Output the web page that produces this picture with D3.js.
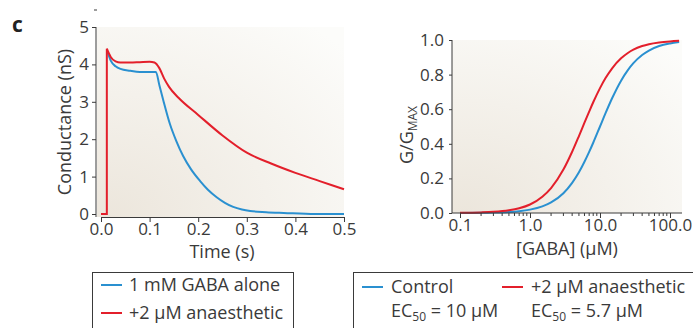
<!DOCTYPE html>
<html>
<head>
<meta charset="utf-8">
<script src="https://cdn.jsdelivr.net/npm/d3@7"></script>
<style>
  body { margin: 0; background: #fff; }
  svg { display: block; font-family: "Open Sans", Lato, sans-serif; }
</style>
</head>
<body>
<script>
// time course (s, nS)
const timeControl = [
  [0.013, 4.35], [0.02, 4.1], [0.03, 3.95], [0.04, 3.88], [0.06, 3.83], [0.08, 3.8],
  [0.113, 3.8], [0.12, 3.45], [0.128, 3.05], [0.142, 2.4], [0.155, 1.95], [0.169, 1.55],
  [0.185, 1.2], [0.204, 0.88], [0.22, 0.65], [0.238, 0.45], [0.255, 0.3], [0.272, 0.19],
  [0.29, 0.12], [0.307, 0.08], [0.34, 0.05], [0.376, 0.03], [0.44, 0.0], [0.5, 0.0]
];
const timeRise = [[0.0, 0.0], [0.012, 0.0], [0.012, 4.42]];
const timeAnaesthetic = [
  [0.012, 4.42], [0.02, 4.2], [0.03, 4.08], [0.04, 4.05], [0.06, 4.05], [0.08, 4.06],
  [0.1, 4.07], [0.11, 4.05], [0.12, 3.9], [0.13, 3.62], [0.14, 3.4], [0.16, 3.1],
  [0.2, 2.65], [0.25, 2.1], [0.3, 1.64], [0.35, 1.35], [0.4, 1.1], [0.45, 0.88], [0.5, 0.66]
];
// dose response ([GABA] µM, G/Gmax)
const gaba = [0.1, 0.2, 0.3, 0.5, 0.7, 1, 1.5, 2, 3, 4, 5, 6, 7, 8, 10, 12, 15, 20, 25, 30, 40, 50, 70, 100, 135];
const doseControl = [0.0004, 0.0013, 0.0026, 0.0061, 0.0107, 0.0196, 0.038, 0.061, 0.114, 0.174, 0.235, 0.296, 0.353, 0.406, 0.5, 0.577, 0.666, 0.765, 0.826, 0.866, 0.913, 0.939, 0.965, 0.98, 0.988];
const doseAnaesthetic = [0.001, 0.0034, 0.0067, 0.0157, 0.0275, 0.049, 0.094, 0.144, 0.251, 0.354, 0.445, 0.522, 0.586, 0.64, 0.722, 0.78, 0.838, 0.894, 0.925, 0.944, 0.965, 0.976, 0.986, 0.992, 0.995];
const timeTicks = [0, 0.1, 0.2, 0.3, 0.4, 0.5];
const condTicks = [0, 1, 2, 3, 4, 5];
const ratioTicks = [0, 0.2, 0.4, 0.6, 0.8, 1.0];
const gabaTicks = [0.1, 1, 10, 100];

const blue = "#2a90d0", red = "#e31f2b", ink = "#3a3a3a";
const width = 693, height = 328;
const tickFont = "17px", labelFont = "18px";

const svg = d3.select("body").append("svg")
  .attr("width", width).attr("height", height);

const defs = svg.append("defs");
const grad = defs.append("radialGradient").attr("id", "bg")
  .attr("cx", "0.05").attr("cy", "1").attr("r", "1.3");
grad.append("stop").attr("offset", "0").attr("stop-color", "#ece6dc");
grad.append("stop").attr("offset", "1").attr("stop-color", "#fcfcfa");

function styleAxis(g) {
  g.select(".domain").attr("stroke", ink);
  g.selectAll(".tick line").attr("stroke", ink);
  g.selectAll("text").attr("fill", ink).style("font-size", tickFont)
    .style("font-family", "'Open Sans', sans-serif");
}

// ---- left panel
const x1 = d3.scaleLinear().domain([0, 0.5]).range([101, 344]);
const y1 = d3.scaleLinear().domain([0, 5]).range([214, 27]);

svg.append("rect").attr("x", 97).attr("y", 27).attr("width", 344 - 97).attr("height", 217 - 27)
  .attr("fill", "url(#bg)");

const line1 = d3.line().x(d => x1(d[0])).y(d => y1(d[1])).curve(d3.curveMonotoneX);
svg.append("path").datum(timeControl).attr("d", line1)
  .attr("fill", "none").attr("stroke", blue).attr("stroke-width", 2);
svg.append("path").datum(timeRise)
  .attr("d", d3.line().x(d => x1(d[0])).y(d => y1(d[1])))
  .attr("fill", "none").attr("stroke", red).attr("stroke-width", 2);
svg.append("path").datum(timeAnaesthetic).attr("d", line1)
  .attr("fill", "none").attr("stroke", red).attr("stroke-width", 2);

const ax1 = svg.append("g").attr("transform", "translate(0,217)")
  .call(d3.axisBottom(x1).tickValues(timeTicks).tickFormat(d3.format(".1f")).tickSize(5).tickSizeOuter(0));
const ay1 = svg.append("g").attr("transform", "translate(96,0)")
  .call(d3.axisLeft(y1).tickValues(condTicks).tickFormat(d3.format("d")).tickSize(4).tickSizeOuter(0));
ay1.select(".domain").attr("d", "M0,27V217");
styleAxis(ax1);
styleAxis(ay1);
ax1.selectAll("text").attr("dy", "0.58em");

svg.append("text").attr("transform", "translate(71,122) rotate(-90)")
  .attr("text-anchor", "middle").attr("fill", ink).style("font-size", labelFont)
  .text("Conductance (nS)");
svg.append("text").attr("x", 222).attr("y", 258).attr("text-anchor", "middle")
  .attr("fill", ink).style("font-size", labelFont).text("Time (s)");

svg.append("text").attr("x", 12).attr("y", 32).attr("fill", "#222")
  .style("font-size", "21px").style("font-weight", "bold").text("c");
svg.append("line").attr("x1", 94).attr("x2", 97).attr("y1", 10).attr("y2", 10)
  .attr("stroke", ink).attr("stroke-width", 1);

// ---- right panel
const x2 = d3.scaleLog().domain([0.1, 100]).range([460, 670]);
const y2 = d3.scaleLinear().domain([0, 1]).range([213, 40]);

svg.append("rect").attr("x", 452).attr("y", 40).attr("width", 682 - 452).attr("height", 213 - 40)
  .attr("fill", "url(#bg)");

const line2 = d3.line().x(d => x2(d[0])).y(d => y2(d[1])).curve(d3.curveMonotoneX);
svg.append("path").datum(gaba.map((g, i) => [g, doseControl[i]])).attr("d", line2)
  .attr("fill", "none").attr("stroke", blue).attr("stroke-width", 2);
svg.append("path").datum(gaba.map((g, i) => [g, doseAnaesthetic[i]])).attr("d", line2)
  .attr("fill", "none").attr("stroke", red).attr("stroke-width", 2);

// minor log ticks
const minor = [];
[0.1, 1, 10, 100].forEach(dec => { for (let k = 2; k <= 9; k++) if (dec * k <= 140) minor.push(dec * k); });
svg.append("g").selectAll("line").data(minor).join("line")
  .attr("x1", d => x2(d)).attr("x2", d => x2(d)).attr("y1", 213).attr("y2", 216)
  .attr("stroke", ink);

const ax2 = svg.append("g").attr("transform", "translate(0,213)")
  .call(d3.axisBottom(x2).tickValues(gabaTicks).tickFormat(d3.format(".1f")).tickSize(5).tickSizeOuter(0));
ax2.select(".domain").attr("d", "M452,0H682");
const ay2 = svg.append("g").attr("transform", "translate(452,0)")
  .call(d3.axisLeft(y2).tickValues(ratioTicks).tickFormat(d3.format(".1f")).tickSize(3).tickSizeOuter(0));
ay2.select(".domain").attr("d", "M0,40V213");
styleAxis(ax2);
styleAxis(ay2);
ax2.selectAll("text").attr("dy", "0.6em");
ay2.selectAll("text").attr("x", -8);

const yl = svg.append("text").attr("transform", "translate(413,135) rotate(-90)")
  .attr("text-anchor", "middle").attr("fill", ink).style("font-size", labelFont);
yl.append("tspan").text("G/G");
yl.append("tspan").attr("dy", 4).style("font-size", "12px").text("MAX");
svg.append("text").attr("x", 567).attr("y", 255).attr("text-anchor", "middle")
  .attr("fill", ink).style("font-size", labelFont).text("[GABA] (µM)");

// ---- legends
svg.append("rect").attr("x", 92.5).attr("y", 272.5).attr("width", 201).attr("height", 70)
  .attr("fill", "none").attr("stroke", ink);
const legLeft = [["1 mM GABA alone", blue], ["+2 µM anaesthetic", red]];
legLeft.forEach(([label, c], i) => {
  const yy = 285 + i * 28;
  svg.append("line").attr("x1", 101).attr("x2", 122).attr("y1", yy).attr("y2", yy)
    .attr("stroke", c).attr("stroke-width", 2);
  svg.append("text").attr("x", 129).attr("y", yy + 6).attr("fill", ink)
    .style("font-size", labelFont).text(label);
});

svg.append("rect").attr("x", 353.5).attr("y", 272.5).attr("width", 360).attr("height", 70)
  .attr("fill", "none").attr("stroke", ink);
const legRight = [["Control", "10", blue, 362], ["+2 µM anaesthetic", "5.7", red, 502]];
legRight.forEach(([label, ec, c, lx]) => {
  svg.append("line").attr("x1", lx).attr("x2", lx + 21).attr("y1", 287).attr("y2", 287)
    .attr("stroke", c).attr("stroke-width", 2);
  svg.append("text").attr("x", lx + 29).attr("y", 293).attr("fill", ink)
    .style("font-size", labelFont).text(label);
  const t = svg.append("text").attr("x", lx + 29).attr("y", 317).attr("fill", ink)
    .style("font-size", labelFont);
  t.append("tspan").text("EC");
  t.append("tspan").attr("dy", 4).style("font-size", "12px").text("50");
  t.append("tspan").attr("dy", -4).text(` = ${ec} µM`);
});
</script>
</body>
</html>
